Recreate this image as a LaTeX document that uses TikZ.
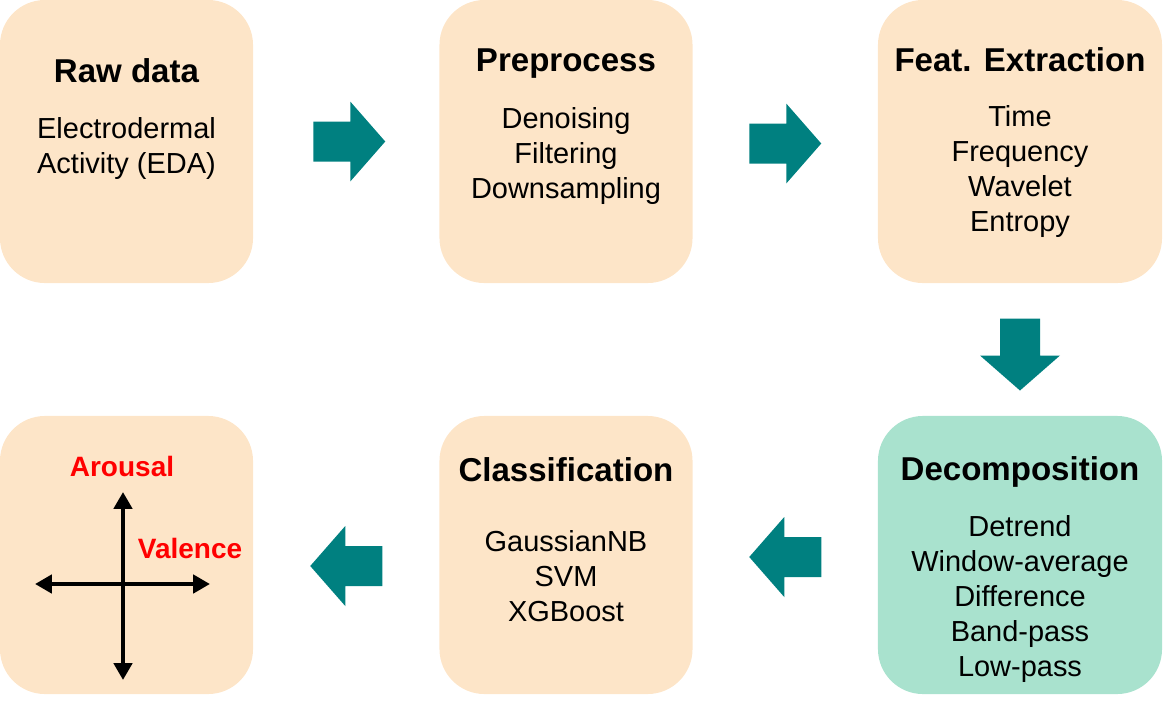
\documentclass[tikz,border=0pt]{standalone}
\usepackage{fontspec}
\setmainfont{Liberation Sans}
\usetikzlibrary{positioning,calc,arrows.meta}

\definecolor{peach}{RGB}{253,229,200}
\definecolor{mint}{RGB}{169,226,206}
\definecolor{flowteal}{RGB}{0,128,128}

\tikzset{
    stage/.style={rectangle, rounded corners=1.125cm, fill=peach, inner sep=0pt,
                  minimum width=6.325cm, minimum height=7.075cm},
    title/.style={font=\fontsize{23.5}{28}\selectfont\bfseries},
    items/.style={font=\fontsize{20.6}{24.9}\selectfont, align=center},
    axislabel/.style={font=\fontsize{19.9}{24}\selectfont\bfseries, text=red},
    axis/.style={line width=3pt, {Triangle[length=4.2mm,width=4.5mm]}-{Triangle[length=4.2mm,width=4.5mm]}},
    pics/flow/.style={code={
        \fill[flowteal] (-36,-20) -- (1,-20) -- (1,-40) -- (36,0) -- (1,40) -- (1,20) -- (-36,20) -- cycle;
    }}
}

\begin{document}
\begin{tikzpicture}[x=0.025cm, y=-0.025cm]
    \useasboundingbox (0,0) rectangle (1166,713);

    % Top row
    \node [stage] (raw) at (126.5,141.5) {};
    \node [stage] (prep) at (566,141.5) {};
    \node [stage, minimum width=7.1cm] (feat) at (1020,141.5) {};

    % Bottom row
    \node [stage, minimum height=6.95cm] (emo) at (126.5,555) {};
    \node [stage, minimum height=6.95cm] (clf) at (566,555) {};
    \node [stage, minimum height=6.95cm, minimum width=7.1cm, fill=mint] (decomp) at (1020,555) {};

    % Titles
    \node [title] (rawT) at ($(raw.north)+(0,71)$) {Raw data};
    \node [title] (prepT) at ($(prep.north)+(0,64)$) {Preprocess};
    \node [title] (featT) at ($(feat.north)+(0,60)$) {Feat. Extraction};
    \node [title] (decompT) at ($(decomp.north)+(0,56)$) {Decomposition};
    \node [title] (clfT) at ($(clf.north)+(0,54)$) {Classification};

    % Contents
    \node [items] (rawI) at ($(raw.north)+(0,149)$) {Electrodermal\\Activity (EDA)};
    \node [items] (prepI) at ($(prep.north)+(0,156)$) {Denoising\\Filtering\\Downsampling};
    \node [items] (featI) at ($(feat.north)+(0,172)$) {Time\\Frequency\\Wavelet\\Entropy};
    \node [items] (decompI) at ($(decomp.north)+(0,183)$) {Detrend\\Window-average\\Difference\\Band-pass\\Low-pass};
    \node [items] (clfI) at ($(clf.north)+(0,160)$) {GaussianNB\\SVM\\XGBoost};

    % Arousal-valence axes
    \coordinate (top) at (123,492);
    \coordinate (bot) at (123,680);
    \coordinate (lft) at (35,584);
    \coordinate (rgt) at (210,584);
    \draw [axis] (top) -- (bot);
    \draw [axis] (lft) -- (rgt);
    \node [axislabel] (arousal) at (122,466) {Arousal};
    \node [axislabel] (valence) at (190,548) {Valence};

    % Block arrows
    \pic at ($(raw.east)!0.5!(prep.west)+(3,0)$) {flow};
    \pic at ($(prep.east)!0.5!(feat.west)+(0,2)$) {flow};
    \pic [rotate=-90] at ($(feat.south)!0.5!(decomp.north)+(0,5)$) {flow};
    \pic [rotate=180] at ($(decomp.west)!0.5!(clf.east)+(0,2)$) {flow};
    \pic [rotate=180] at ($(clf.west)!0.5!(emo.east)+(0,11)$) {flow};
\end{tikzpicture}
\end{document}
